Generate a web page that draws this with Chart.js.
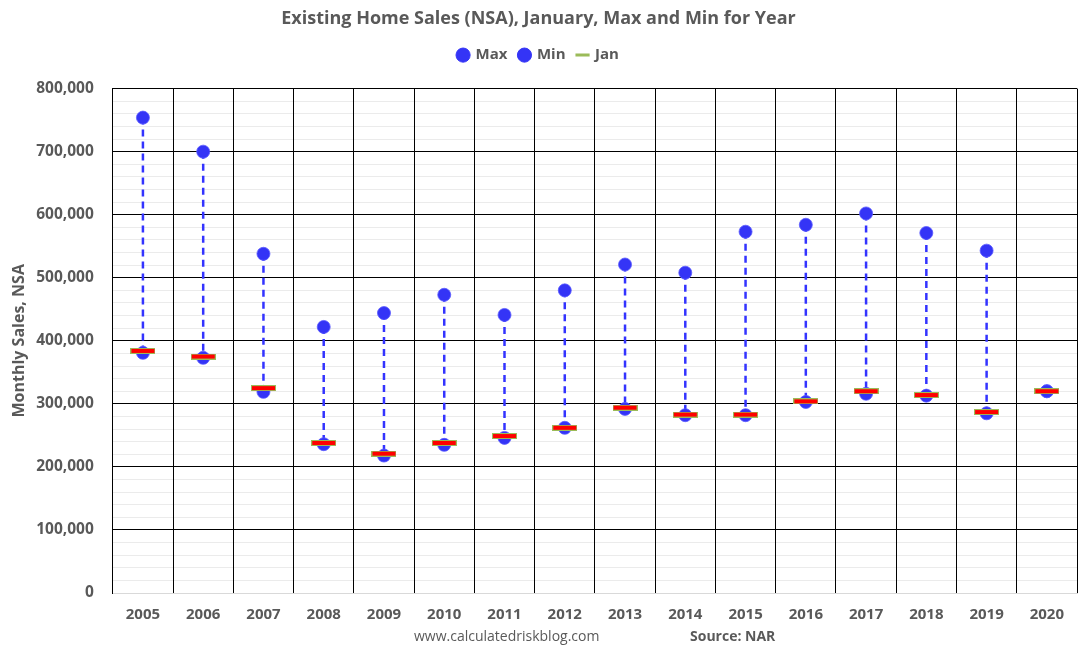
<!DOCTYPE html>
<html>
<head>
<meta charset="utf-8">
<script src="https://cdn.jsdelivr.net/npm/chart.js@4.4.1/dist/chart.umd.min.js"></script>
<style>
  body { margin: 0; background: #fff; font-family: "Open Sans", sans-serif; }
  #wrap { position: relative; width: 1087px; height: 654px; }
  .foot { position: absolute; top: 626px; font-size: 14px; color: #595959; }
</style>
</head>
<body>
<div id="wrap">
  <canvas id="sales" width="1087" height="654"></canvas>
  <div class="foot" style="left:414px">www.calculatedriskblog.com</div>
  <div class="foot" style="left:690px;font-weight:bold">Source: NAR</div>
</div>
<script>
var years = ['2005','2006','2007','2008','2009','2010','2011','2012','2013','2014','2015','2016','2017','2018','2019','2020'];
var maxSales = [754000,700000,538000,422000,444000,473000,441000,480000,521000,508000,573000,584000,602000,571000,543000,320000];
var minSales = [381000,373000,319000,236000,218000,235000,246000,262000,292000,282000,282000,303000,316000,313000,285000,320000];
var janSales = [384000,375000,325000,238000,221000,238000,249000,262000,294000,283000,283000,304000,320000,314000,287000,320000];

var grey = '#595959';
var blue = '#3434F6';

// red bar with green edge for the January marker
var janMark = document.createElement('canvas');
janMark.width = 25; janMark.height = 6;
var jc = janMark.getContext('2d');
jc.fillStyle = '#9BBB59'; jc.fillRect(0, 0, 25, 6);
jc.fillStyle = '#FF0000'; jc.fillRect(1, 1, 23, 4);

var rangeLines = {
  id: 'rangeLines',
  beforeDatasetsDraw: function(chart) {
    var hi = chart.getDatasetMeta(0).data, lo = chart.getDatasetMeta(1).data;
    var ctx = chart.ctx;
    ctx.save();
    ctx.strokeStyle = '#3333FF';
    ctx.lineWidth = 2.5;
    ctx.setLineDash([7, 5]);
    for (var i = 0; i < hi.length; i++) {
      if (maxSales[i] == null || maxSales[i] <= minSales[i]) continue;
      ctx.beginPath();
      ctx.moveTo(hi[i].x, hi[i].y);
      ctx.lineTo(lo[i].x, lo[i].y);
      ctx.stroke();
    }
    ctx.restore();
  }
};

// extra room under the legend
var legendGap = {
  id: 'legendGap',
  beforeInit: function(chart) {
    var fit = chart.legend.fit;
    chart.legend.fit = function() {
      fit.call(this);
      this.height += 16;
    };
  }
};

var ctx = document.getElementById('sales');
var myChart = new Chart(ctx, {
  type: 'line',
  data: {
    labels: years,
    datasets: [{
      label: 'Max',
      data: maxSales,
      showLine: false,
      pointRadius: 6.5,
      pointBackgroundColor: blue,
      pointBorderColor: 'rgba(90,90,255,0.8)',
      pointBorderWidth: 1,
      order: 1
    }, {
      label: 'Min',
      data: minSales,
      showLine: false,
      pointRadius: 6.5,
      pointBackgroundColor: blue,
      pointBorderColor: 'rgba(90,90,255,0.8)',
      pointBorderWidth: 1,
      order: 2
    }, {
      label: 'Jan',
      data: janSales,
      showLine: false,
      pointStyle: janMark,
      order: 0
    }]
  },
  options: {
    responsive: false,
    animation: false,
    layout: { padding: { left: 0, right: 10, top: 4, bottom: 17 } },
    plugins: {
      tooltip: { enabled: false },
      title: {
        display: true,
        text: 'Existing Home Sales (NSA), January, Max and Min for Year',
        color: grey,
        font: { family: 'Open Sans', size: 18, weight: 'bold' },
        padding: { top: 4, bottom: 6 }
      },
      legend: {
        labels: {
          color: grey,
          font: { family: 'Open Sans', size: 15, weight: 'bold' },
          usePointStyle: true,
          boxWidth: 10,
          boxHeight: 10,
          padding: 12,
          sort: function(a, b) { return a.datasetIndex - b.datasetIndex; },
          generateLabels: function(chart) {
            var items = Chart.defaults.plugins.legend.labels.generateLabels(chart);
            items.forEach(function(it) {
              if (it.text === 'Jan') {
                it.pointStyle = 'line';
                it.strokeStyle = '#9BBB59';
                it.lineWidth = 3;
              } else {
                it.pointStyle = 'circle';
                it.fillStyle = blue;
                it.strokeStyle = blue;
              }
            });
            return items;
          }
        }
      }
    },
    scales: {
      x: {
        offset: true,
        grid: { offset: true, color: '#000', drawTicks: false },
        border: { color: '#d9d9d9' },
        ticks: { color: grey, font: { family: 'Open Sans', size: 15, weight: 'bold' }, padding: 13 }
      },
      y: {
        min: 0,
        max: 800000,
        border: { display: true, color: '#000' },
        grid: {
          drawTicks: false,
          color: function(c) {
            if (!c.tick) return 'rgba(0,0,0,0.08)';
            if (c.tick.value === 0) return '#d9d9d9';
            return c.tick.value % 100000 === 0 ? '#000' : 'rgba(0,0,0,0.08)';
          }
        },
        ticks: {
          stepSize: 20000,
          autoSkip: false,
          padding: 19,
          color: grey,
          font: { family: 'Open Sans', size: 15.5, weight: 'bold' },
          callback: function(v) { return v % 100000 === 0 ? v.toLocaleString('en-US') : ''; }
        },
        title: {
          display: true,
          text: 'Monthly Sales, NSA',
          color: grey,
          font: { family: 'Open Sans', size: 16, weight: 'bold' },
          padding: { top: 10, bottom: -12 }
        }
      }
    }
  },
  plugins: [rangeLines, legendGap]
});
</script>
</body>
</html>
